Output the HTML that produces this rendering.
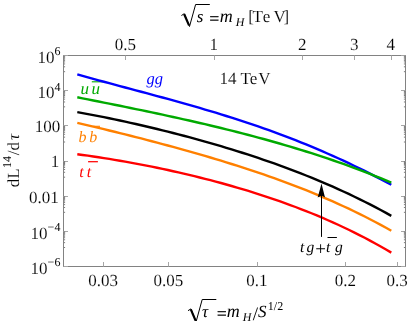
<!DOCTYPE html>
<html><head><meta charset="utf-8"><title>Parton luminosity</title>
<style>
html,body{margin:0;padding:0;background:#fff;}
svg{display:block;will-change:transform;}
text{font-family:"Liberation Serif",serif;text-rendering:geometricPrecision;stroke:#fff;stroke-width:0.12px;}
text[fill],text[font-style],.n{stroke:none;}
.b{stroke:#000;stroke-width:0.35px;}
</style></head><body>
<svg width="409" height="321" viewBox="0 0 409 321">
<rect x="0" y="0" width="409" height="321" fill="#ffffff"/>

<path d="M91.8,81.8H103" stroke="#00aa00" stroke-width="1.1" fill="none"/>
<path d="M93.2,126.3H100" stroke="#ff8000" stroke-width="1.1" fill="none"/>
<path d="M88.1,161.7H97.9" stroke="#ff0000" stroke-width="1.25" fill="none"/>
<path d="M77.3,74.44 L82.6,75.93 L87.9,77.41 L93.3,78.88 L98.6,80.33 L103.9,81.78 L109.2,83.21 L114.6,84.64 L119.9,86.07 L125.2,87.49 L130.5,88.91 L135.8,90.33 L141.2,91.75 L146.5,93.18 L151.8,94.61 L157.1,96.05 L162.5,97.49 L167.8,98.95 L173.1,100.41 L178.4,101.89 L183.7,103.39 L189.1,104.90 L194.4,106.42 L199.7,107.96 L205.0,109.53 L210.4,111.11 L215.7,112.72 L221.0,114.34 L226.3,116.00 L231.6,117.68 L237.0,119.38 L242.3,121.11 L247.6,122.88 L252.9,124.67 L258.2,126.49 L263.6,128.35 L268.9,130.24 L274.2,132.16 L279.5,134.12 L284.9,136.11 L290.2,138.15 L295.5,140.22 L300.8,142.32 L306.1,144.47 L311.5,146.66 L316.8,148.89 L322.1,151.16 L327.4,153.48 L332.8,155.83 L338.1,158.23 L343.4,160.68 L348.7,163.17 L354.0,165.71 L359.4,168.29 L364.7,170.92 L370.0,173.60 L375.3,176.33 L380.7,179.10 L386.0,181.93 L391.3,184.80" fill="none" stroke="#0000ff" stroke-width="2.4" stroke-linejoin="round"/>
<path d="M77.3,97.28 L82.6,98.34 L87.9,99.39 L93.3,100.45 L98.6,101.52 L103.9,102.58 L109.2,103.65 L114.6,104.72 L119.9,105.80 L125.2,106.88 L130.5,107.97 L135.8,109.07 L141.2,110.17 L146.5,111.28 L151.8,112.40 L157.1,113.53 L162.5,114.67 L167.8,115.82 L173.1,116.98 L178.4,118.15 L183.7,119.33 L189.1,120.53 L194.4,121.74 L199.7,122.96 L205.0,124.20 L210.4,125.46 L215.7,126.73 L221.0,128.01 L226.3,129.32 L231.6,130.64 L237.0,131.99 L242.3,133.35 L247.6,134.73 L252.9,136.14 L258.2,137.57 L263.6,139.01 L268.9,140.49 L274.2,141.98 L279.5,143.51 L284.9,145.05 L290.2,146.63 L295.5,148.23 L300.8,149.85 L306.1,151.51 L311.5,153.20 L316.8,154.91 L322.1,156.66 L327.4,158.44 L332.8,160.25 L338.1,162.09 L343.4,163.97 L348.7,165.89 L354.0,167.84 L359.4,169.82 L364.7,171.84 L370.0,173.91 L375.3,176.01 L380.7,178.14 L386.0,180.32 L391.3,182.55" fill="none" stroke="#00aa00" stroke-width="2.4" stroke-linejoin="round"/>
<path d="M77.3,112.14 L82.6,113.10 L87.9,114.09 L93.3,115.10 L98.6,116.14 L103.9,117.19 L109.2,118.27 L114.6,119.38 L119.9,120.50 L125.2,121.65 L130.5,122.82 L135.8,124.01 L141.2,125.23 L146.5,126.46 L151.8,127.72 L157.1,129.00 L162.5,130.31 L167.8,131.63 L173.1,132.98 L178.4,134.35 L183.7,135.75 L189.1,137.17 L194.4,138.61 L199.7,140.07 L205.0,141.57 L210.4,143.08 L215.7,144.62 L221.0,146.19 L226.3,147.79 L231.6,149.41 L237.0,151.06 L242.3,152.74 L247.6,154.45 L252.9,156.19 L258.2,157.97 L263.6,159.77 L268.9,161.61 L274.2,163.48 L279.5,165.39 L284.9,167.33 L290.2,169.32 L295.5,171.34 L300.8,173.40 L306.1,175.50 L311.5,177.64 L316.8,179.83 L322.1,182.06 L327.4,184.34 L332.8,186.67 L338.1,189.04 L343.4,191.47 L348.7,193.95 L354.0,196.48 L359.4,199.07 L364.7,201.71 L370.0,204.42 L375.3,207.18 L380.7,210.01 L386.0,212.90 L391.3,215.86" fill="none" stroke="#000000" stroke-width="2.4" stroke-linejoin="round"/>
<path d="M77.3,122.90 L82.6,124.13 L87.9,125.38 L93.3,126.63 L98.6,127.90 L103.9,129.17 L109.2,130.46 L114.6,131.77 L119.9,133.08 L125.2,134.41 L130.5,135.74 L135.8,137.09 L141.2,138.46 L146.5,139.83 L151.8,141.22 L157.1,142.63 L162.5,144.04 L167.8,145.47 L173.1,146.92 L178.4,148.38 L183.7,149.86 L189.1,151.36 L194.4,152.87 L199.7,154.40 L205.0,155.95 L210.4,157.52 L215.7,159.11 L221.0,160.72 L226.3,162.35 L231.6,164.00 L237.0,165.68 L242.3,167.39 L247.6,169.12 L252.9,170.88 L258.2,172.67 L263.6,174.48 L268.9,176.33 L274.2,178.21 L279.5,180.12 L284.9,182.07 L290.2,184.06 L295.5,186.08 L300.8,188.14 L306.1,190.24 L311.5,192.38 L316.8,194.57 L322.1,196.81 L327.4,199.09 L332.8,201.42 L338.1,203.79 L343.4,206.23 L348.7,208.71 L354.0,211.26 L359.4,213.86 L364.7,216.52 L370.0,219.24 L375.3,222.03 L380.7,224.88 L386.0,227.80 L391.3,230.79" fill="none" stroke="#ff8000" stroke-width="2.4" stroke-linejoin="round"/>
<path d="M77.3,154.23 L82.6,154.94 L87.9,155.68 L93.3,156.46 L98.6,157.25 L103.9,158.08 L109.2,158.93 L114.6,159.81 L119.9,160.71 L125.2,161.64 L130.5,162.60 L135.8,163.59 L141.2,164.59 L146.5,165.63 L151.8,166.69 L157.1,167.78 L162.5,168.90 L167.8,170.04 L173.1,171.21 L178.4,172.40 L183.7,173.63 L189.1,174.88 L194.4,176.16 L199.7,177.48 L205.0,178.82 L210.4,180.19 L215.7,181.59 L221.0,183.03 L226.3,184.50 L231.6,186.00 L237.0,187.54 L242.3,189.11 L247.6,190.72 L252.9,192.36 L258.2,194.04 L263.6,195.77 L268.9,197.53 L274.2,199.34 L279.5,201.19 L284.9,203.08 L290.2,205.02 L295.5,207.00 L300.8,209.04 L306.1,211.12 L311.5,213.25 L316.8,215.44 L322.1,217.69 L327.4,219.98 L332.8,222.34 L338.1,224.76 L343.4,227.24 L348.7,229.78 L354.0,232.38 L359.4,235.06 L364.7,237.80 L370.0,240.62 L375.3,243.50 L380.7,246.47 L386.0,249.51 L391.3,252.63" fill="none" stroke="#ff0000" stroke-width="2.4" stroke-linejoin="round"/>
<rect x="63.5" y="55.5" width="342.0" height="211.0" fill="none" stroke="#828282" stroke-width="1"/>
<path d="M63.5,55.5h4.5M405.5,55.5h-4.5M63.5,90.5h4.5M405.5,90.5h-4.5M63.5,125.5h4.5M405.5,125.5h-4.5M63.5,161.5h4.5M405.5,161.5h-4.5M63.5,196.5h4.5M405.5,196.5h-4.5M63.5,231.5h4.5M405.5,231.5h-4.5M63.5,266.5h4.5M405.5,266.5h-4.5M103.5,266.5v-4.5M168.5,266.5v-4.5M257.5,266.5v-4.5M345.5,266.5v-4.5M397.5,266.5v-4.5M125.5,55.5v4.5M214.5,55.5v4.5M302.5,55.5v4.5M354.5,55.5v4.5M391.5,55.5v4.5" fill="none" stroke="#a6a6a6" stroke-width="1"/>
<path d="M64.0,71.68h1.1M405.0,71.68h-1.1M64.0,66.81h1.1M405.0,66.81h-1.1M64.0,63.96h1.1M405.0,63.96h-1.1M64.0,61.94h1.1M405.0,61.94h-1.1M64.0,60.37h1.1M405.0,60.37h-1.1M64.0,59.09h1.1M405.0,59.09h-1.1M64.0,58.01h1.1M405.0,58.01h-1.1M64.0,57.07h1.1M405.0,57.07h-1.1M64.0,56.24h1.1M405.0,56.24h-1.1M64.0,106.84h1.1M405.0,106.84h-1.1M64.0,101.97h1.1M405.0,101.97h-1.1M64.0,99.13h1.1M405.0,99.13h-1.1M64.0,97.10h1.1M405.0,97.10h-1.1M64.0,95.54h1.1M405.0,95.54h-1.1M64.0,94.26h1.1M405.0,94.26h-1.1M64.0,93.17h1.1M405.0,93.17h-1.1M64.0,92.23h1.1M405.0,92.23h-1.1M64.0,91.41h1.1M405.0,91.41h-1.1M64.0,142.01h1.1M405.0,142.01h-1.1M64.0,137.14h1.1M405.0,137.14h-1.1M64.0,134.29h1.1M405.0,134.29h-1.1M64.0,132.27h1.1M405.0,132.27h-1.1M64.0,130.70h1.1M405.0,130.70h-1.1M64.0,129.42h1.1M405.0,129.42h-1.1M64.0,128.34h1.1M405.0,128.34h-1.1M64.0,127.40h1.1M405.0,127.40h-1.1M64.0,126.57h1.1M405.0,126.57h-1.1M64.0,177.18h1.1M405.0,177.18h-1.1M64.0,172.31h1.1M405.0,172.31h-1.1M64.0,169.46h1.1M405.0,169.46h-1.1M64.0,167.44h1.1M405.0,167.44h-1.1M64.0,165.87h1.1M405.0,165.87h-1.1M64.0,164.59h1.1M405.0,164.59h-1.1M64.0,163.51h1.1M405.0,163.51h-1.1M64.0,162.57h1.1M405.0,162.57h-1.1M64.0,161.74h1.1M405.0,161.74h-1.1M64.0,212.34h1.1M405.0,212.34h-1.1M64.0,207.47h1.1M405.0,207.47h-1.1M64.0,204.63h1.1M405.0,204.63h-1.1M64.0,202.60h1.1M405.0,202.60h-1.1M64.0,201.04h1.1M405.0,201.04h-1.1M64.0,199.76h1.1M405.0,199.76h-1.1M64.0,198.67h1.1M405.0,198.67h-1.1M64.0,197.73h1.1M405.0,197.73h-1.1M64.0,196.91h1.1M405.0,196.91h-1.1M64.0,247.51h1.1M405.0,247.51h-1.1M64.0,242.64h1.1M405.0,242.64h-1.1M64.0,239.79h1.1M405.0,239.79h-1.1M64.0,237.77h1.1M405.0,237.77h-1.1M64.0,236.20h1.1M405.0,236.20h-1.1M64.0,234.92h1.1M405.0,234.92h-1.1M64.0,233.84h1.1M405.0,233.84h-1.1M64.0,232.90h1.1M405.0,232.90h-1.1M64.0,232.07h1.1M405.0,232.07h-1.1" fill="none" stroke="#6e6e6e" stroke-width="0.9"/>
<text x="103.10" y="285.8" font-size="17" text-anchor="middle">0.03</text>
<text x="168.32" y="285.8" font-size="17" text-anchor="middle">0.05</text>
<text x="256.83" y="285.8" font-size="17" text-anchor="middle">0.1</text>
<text x="345.33" y="285.8" font-size="17" text-anchor="middle">0.2</text>
<text x="397.10" y="285.8" font-size="17" text-anchor="middle">0.3</text>
<text x="125.36" y="50.2" font-size="17" text-anchor="middle">0.5</text>
<text x="213.86" y="50.2" font-size="17" text-anchor="middle">1</text>
<text x="302.37" y="50.2" font-size="17" text-anchor="middle">2</text>
<text x="354.14" y="50.2" font-size="17" text-anchor="middle">3</text>
<text x="390.87" y="50.2" font-size="17" text-anchor="middle">4</text>
<text x="60.4" y="62.90" font-size="17" text-anchor="end">10<tspan class="n" font-size="12" dy="-7.5">6</tspan></text>
<text x="60.4" y="98.07" font-size="17" text-anchor="end">10<tspan class="n" font-size="12" dy="-7.5">4</tspan></text>
<text x="60.2" y="132.23" font-size="17" text-anchor="end">100</text>
<text x="59.3" y="166.90" font-size="17" text-anchor="end">1</text>
<text x="58.7" y="202.77" font-size="17" text-anchor="end">0.01</text>
<text x="60.4" y="238.73" font-size="17" text-anchor="end">10<tspan class="n" font-size="12" dy="-7.5">−4</tspan></text>
<text x="60.4" y="273.90" font-size="17" text-anchor="end">10<tspan class="n" font-size="12" dy="-7.5">−6</tspan></text>
<text transform="translate(18.5,187.2) rotate(-90)" font-size="17">dL<tspan class="n" font-size="12" dy="-7.5" dx="0.2">14</tspan><tspan dy="7.5" dx="0.8">/d</tspan><tspan font-style="italic" dx="2">τ</tspan></text>
<path d="M181.4,15.5 L184.3,13.7 L189.5,26.5 L195.6,4.5 L209.8,4.5" fill="none" stroke="#000" stroke-width="1" stroke-linejoin="miter"/><path d="M184.2,14.2 L189.0,25.4" fill="none" stroke="#000" stroke-width="2.2"/>
<text x="196.69" y="21.80" font-size="17" font-style="italic">s</text>
<text x="209.45" y="23.80" font-size="17" class="b">=</text>
<text x="219.75" y="21.80" font-size="18" font-style="italic">m</text>
<text x="235.73" y="25.70" font-size="12" font-style="italic">H</text>
<text x="248.34" y="21.80" font-size="17">[</text>
<text x="252.59" y="21.80" font-size="17">T</text>
<text x="262.64" y="21.80" font-size="17">e</text>
<text x="273.51" y="21.80" font-size="17">V</text>
<text x="283.40" y="21.80" font-size="17">]</text>
<path d="M188.0,310.7 L190.9,308.9 L196.1,321.7 L202.2,299.5 L216.3,299.5" fill="none" stroke="#000" stroke-width="1" stroke-linejoin="miter"/><path d="M190.8,309.4 L195.6,320.6" fill="none" stroke="#000" stroke-width="2.2"/>
<text x="201.93" y="317.00" font-size="17" font-style="italic">τ</text>
<text x="216.95" y="319.00" font-size="17" class="b">=</text>
<text x="226.65" y="317.00" font-size="18" font-style="italic">m</text>
<text x="242.83" y="320.90" font-size="12" font-style="italic">H</text>
<text x="252.70" y="319.80" font-size="19" class="n">/</text>
<text x="258.00" y="317.00" font-size="17" font-style="italic">S</text>
<text class="n" x="267.8" y="310.0" font-size="12">1/2</text>
<text x="219.5" y="83.9" font-size="17">14 Te<tspan dx="1.0">V</tspan></text>
<text x="146.5" y="83.5" font-size="16.5" font-style="italic" fill="#0000ff">gg</text>
<text x="80.4" y="93.8" font-size="17" font-style="italic" fill="#00aa00">u<tspan dx="2.7">u</tspan></text>
<text x="78.6" y="141.8" font-size="16" font-style="italic" fill="#ff8000">b<tspan dx="2.6">b</tspan></text>
<text x="79.3" y="176.7" font-size="16" font-style="italic" fill="#ff0000">t<tspan dx="3">t</tspan></text>
<path d="M321.5,236.9V195" stroke="#000" stroke-width="1" fill="none"/>
<path d="M321.5,183.5 L325,197.4 L321.5,195.6 L317.7,197.4 Z" fill="#000"/>
<text x="299.92" y="252.30" font-size="15.5" font-style="italic" class="n">t</text>
<text x="306.39" y="252.30" font-size="15.5" font-style="italic" class="n">g</text>
<text x="315.25" y="254.70" font-size="19" class="n">+</text>
<text x="325.92" y="252.30" font-size="15.5" font-style="italic" class="n">t</text>
<text x="335.09" y="252.30" font-size="15.5" font-style="italic" class="n">g</text>
<path d="M327.5,237.5H336.9" stroke="#000" stroke-width="1" fill="none"/>
</svg></body></html>
